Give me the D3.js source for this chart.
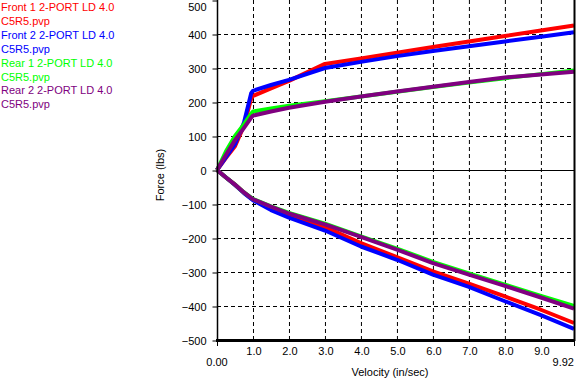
<!DOCTYPE html>
<html><head><meta charset="utf-8">
<script src="https://cdn.jsdelivr.net/npm/d3@7"></script>
<style>body{margin:0;background:#fff}svg{display:block}text{font-family:"Liberation Sans",Arial,sans-serif}</style>
</head><body><svg id="c" width="576" height="383"></svg>
<script>
const seriesNames = ["Front 1 2-PORT LD 4.0|C5R5.pvp","Front 2 2-PORT LD 4.0|C5R5.pvp","Rear 1 2-PORT LD 4.0|C5R5.pvp","Rear 2 2-PORT LD 4.0|C5R5.pvp"];
const seriesColors = ["#ff0000","#0000ff","#00ff00","#800080"];
// compression (positive force)
const compVel = [0,0.25,0.5,0.75,0.95,1.0,1.5,2.0,3.0,4.0,5.0,6.0,7.0,8.0,9.0,9.92];
const front1Comp = [0,36,70,130,210,218,240,262,312,328,345,362,378,394,410,425];
const front2Comp = [0,38,76,140,226,233,250,265,300,318,335,350,364,378,392,405];
const rear1Comp  = [0,55,100,135,166,172,181,189,202,216,230,244,257,270,282,293];
const rear2Comp  = [0,45,88,124,154,160,172,183,201,216,231,245,259,272,281,289];
// rebound (negative force)
const rebVel = [0,0.25,0.5,0.75,1.0,1.5,2.0,3.0,4.0,5.0,6.0,7.0,8.0,9.0,9.92];
const front1Reb = [0,-22,-43,-67,-87,-110,-133,-168,-215,-256,-298,-334,-372,-411,-450];
const front2Reb = [0,-22,-44,-68,-89,-118,-140,-178,-225,-264,-308,-344,-386,-427,-467];
const rear1Reb  = [0,-22,-43,-66,-85,-107,-126,-158,-195,-231,-270,-304,-337,-370,-400];
const rear2Reb  = [0,-22,-43,-66,-86,-108,-128,-160,-197,-234,-274,-308,-341,-375,-408];
const xTickVals = [1,2,3,4,5,6,7,8,9];
const xTickLabels = ["1.0","2.0","3.0","4.0","5.0","6.0","7.0","8.0","9.0"];
const yTickVals = [-500,-400,-300,-200,-100,0,100,200,300,400,500];

const comp = [front1Comp, front2Comp, rear1Comp, rear2Comp];
const reb = [front1Reb, front2Reb, rear1Reb, rear2Reb];

const svg = d3.select("#c");
const x = d3.scaleLinear().domain([0, 9.92]).range([217, 574]);
const y = d3.scaleLinear().domain([-500, 500]).range([340, 0]);

// grid
const g = svg.append("g");
g.selectAll("line.vg").data(xTickVals).join("line")
  .attr("x1", d => x(d)+0.5).attr("x2", d => x(d)+0.5).attr("y1", 0).attr("y2", 340)
  .attr("stroke", "#000").attr("stroke-dasharray", "4,3").attr("stroke-width", 1);
g.selectAll("line.hg").data(yTickVals.filter(v => v !== 0 && v !== -500 && v !== 500)).join("line")
  .attr("x1", 217).attr("x2", 574).attr("y1", d => y(d)+0.5).attr("y2", d => y(d)+0.5)
  .attr("stroke", "#000").attr("stroke-dasharray", "4,3").attr("stroke-width", 1);

// zero line
svg.append("line").attr("x1", 217).attr("x2", 574).attr("y1", y(0)+0.5).attr("y2", y(0)+0.5).attr("stroke", "#000");

// series
const line = d3.line().x(d => x(d[0])).y(d => y(d[1]));
const plot = svg.append("g");
comp.forEach((s, i) => {
  plot.append("path").datum(compVel.map((v, j) => [v, s[j]])).attr("d", line)
    .attr("fill", "none").attr("stroke", seriesColors[i]).attr("stroke-width", 4).attr("stroke-linejoin", "round");
  plot.append("path").datum(rebVel.map((v, j) => [v, reb[i][j]])).attr("d", line)
    .attr("fill", "none").attr("stroke", seriesColors[i]).attr("stroke-width", 4).attr("stroke-linejoin", "round");
});

// axes
const yAxis = d3.axisLeft(y).tickValues(yTickVals).tickSize(5).tickPadding(6).tickFormat(d3.format("d"));
const ya = svg.append("g").attr("transform", "translate(217.5,0.5)").call(yAxis);
ya.select(".domain").attr("stroke", "#000").attr("stroke-width", 1.5).attr("d", "M0,-1V340");
ya.selectAll("text").attr("font-size", 11).attr("fill", "#000").attr("font-family", "Liberation Sans, Arial, sans-serif");
// top label kept inside the picture
ya.selectAll(".tick").filter(d => d === 500).select("text").attr("y", 6.5);

const xAxis = d3.axisBottom(x).tickValues(xTickVals).tickSize(0).tickPadding(7).tickFormat((d, i) => xTickLabels[i]);
const xa = svg.append("g").attr("transform", "translate(0.5,340)").call(xAxis);
xa.select(".domain").remove();
xa.selectAll("text").attr("font-size", 11).attr("fill", "#000").attr("font-family", "Liberation Sans, Arial, sans-serif");

// bottom axis thick line & right border
svg.append("line").attr("x1", 216).attr("x2", 575).attr("y1", 340.5).attr("y2", 340.5).attr("stroke", "#000").attr("stroke-width", 3);
svg.append("line").attr("x1", 574.5).attr("x2", 574.5).attr("y1", 0).attr("y2", 341).attr("stroke", "#000").attr("stroke-width", 2);
// end ticks
[0, 9.92].forEach(v => svg.append("line").attr("x1", x(v)+0.5).attr("x2", x(v)+0.5).attr("y1", 341).attr("y2", 346).attr("stroke", "#000"));
svg.append("text").attr("x", x(0)).attr("y", 366).attr("text-anchor", "middle").attr("font-size", 11).text("0.00");
svg.append("text").attr("x", x(9.92)).attr("y", 366).attr("text-anchor", "end").attr("font-size", 11).text("9.92");

// axis titles
svg.append("text").attr("x", 390).attr("y", 376).attr("text-anchor", "middle").attr("font-size", 11).text("Velocity (in/sec)");
svg.append("text").attr("transform", "translate(164,175) rotate(-90)").attr("text-anchor", "middle").attr("font-size", 11).text("Force (lbs)");

// legend
seriesNames.forEach((n, i) => {
  n.split("|").forEach((t, k) => {
    svg.append("text").attr("x", 1).attr("y", 11 + (i*2 + k) * 13.9).attr("font-size", 11)
      .attr("fill", seriesColors[i]).text(t);
  });
});
</script></body></html>
